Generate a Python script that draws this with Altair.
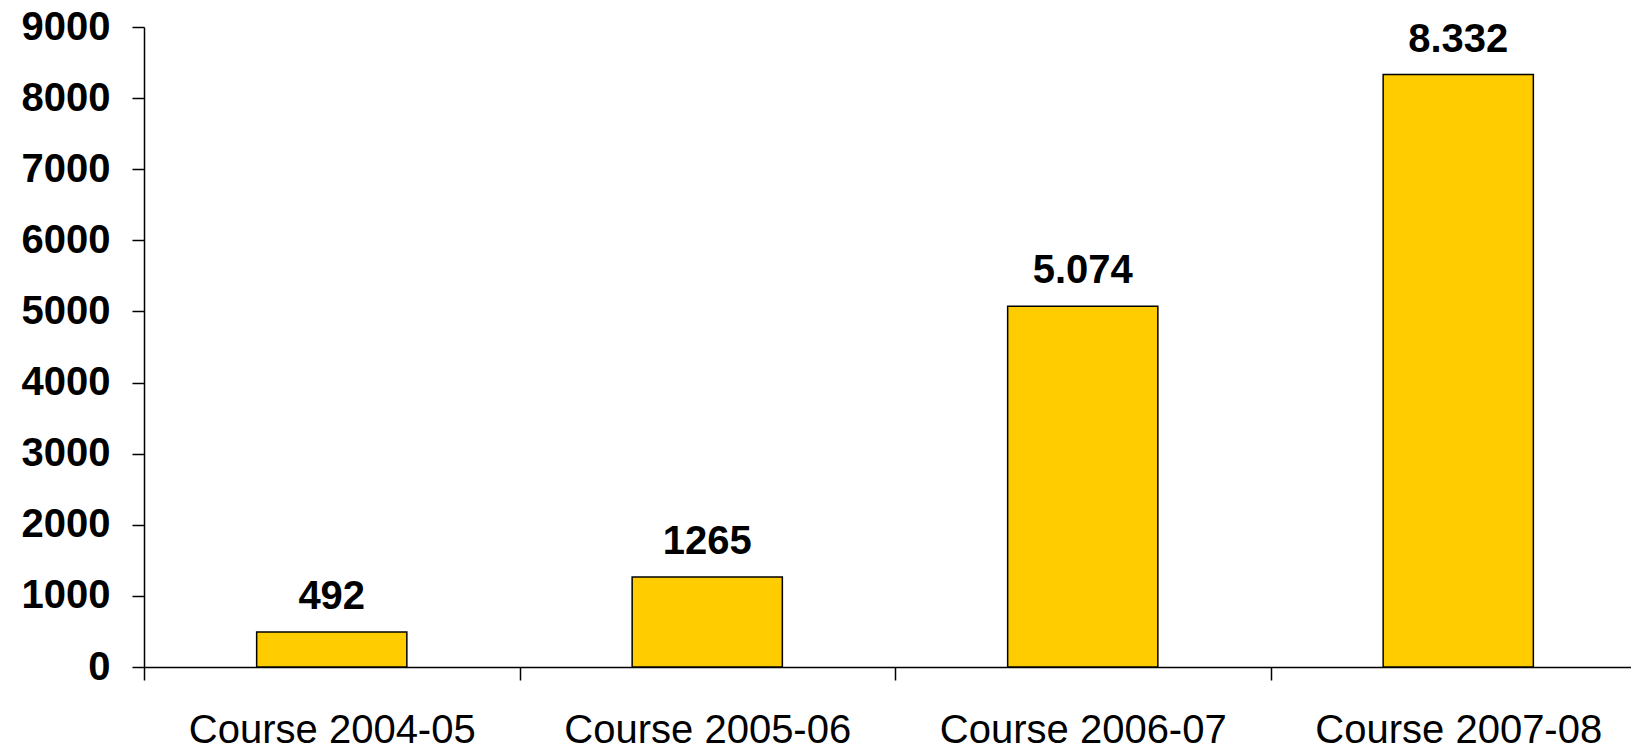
import altair as alt
import pandas as pd

categories = ["Course 2004-05", "Course 2005-06", "Course 2006-07", "Course 2007-08"]
values = [492, 1265, 5074, 8332]
value_labels = ["492", "1265", "5.074", "8.332"]
y_ticks = [0, 1000, 2000, 3000, 4000, 5000, 6000, 7000, 8000, 9000]

df = pd.DataFrame({"course": categories, "value": values, "label": value_labels})

FONT = "Liberation Sans"

x_enc = alt.X(
    "course:N",
    sort=categories,
    title=None,
    scale=alt.Scale(range=[0, 1502], paddingInner=0, paddingOuter=0),
    axis=alt.Axis(
        labelAngle=0,
        labelFont=FONT,
        labelFontSize=40,
        labelColor="black",
        labelPadding=30,
        labelLimit=0,
        tickBand="extent",
        tickSize=13,
        tickColor="black",
        tickWidth=1.5,
        domainColor="black",
        domainWidth=1.5,
        grid=False,
    ),
)
y_enc = alt.Y(
    "value:Q",
    title=None,
    scale=alt.Scale(domain=[0, 9000], nice=False),
    axis=alt.Axis(
        values=y_ticks,
        format="d",
        labelFont=FONT,
        labelFontSize=40,
        labelFontWeight="bold",
        labelColor="black",
        labelPadding=22,
        labelLimit=0,
        tickSize=12,
        tickColor="black",
        tickWidth=1.5,
        domainColor="black",
        domainWidth=1.5,
        grid=False,
    ),
)

bars = alt.Chart(df).mark_bar(
    color="#FFCC00", stroke="black", strokeWidth=1.5, width=alt.RelativeBandSize(0.4)
).encode(x=x_enc, y=y_enc)

texts = alt.Chart(df).mark_text(
    font=FONT, fontSize=40, fontWeight="bold", color="black",
    baseline="alphabetic", align="center", dy=-23
).encode(x=alt.X("course:N", sort=categories), y="value:Q", text="label:N")

chart = (
    alt.layer(bars, texts)
    .properties(
        width=1487,
        height=640,
        autosize=alt.AutoSizeParams(type="none"),
        padding={"left": 136, "top": 19, "right": 0, "bottom": 78},
        background="white",
    )
    .configure_view(stroke=None)
)

chart.save("out.html", embed_options={"renderer": "svg", "actions": False})
